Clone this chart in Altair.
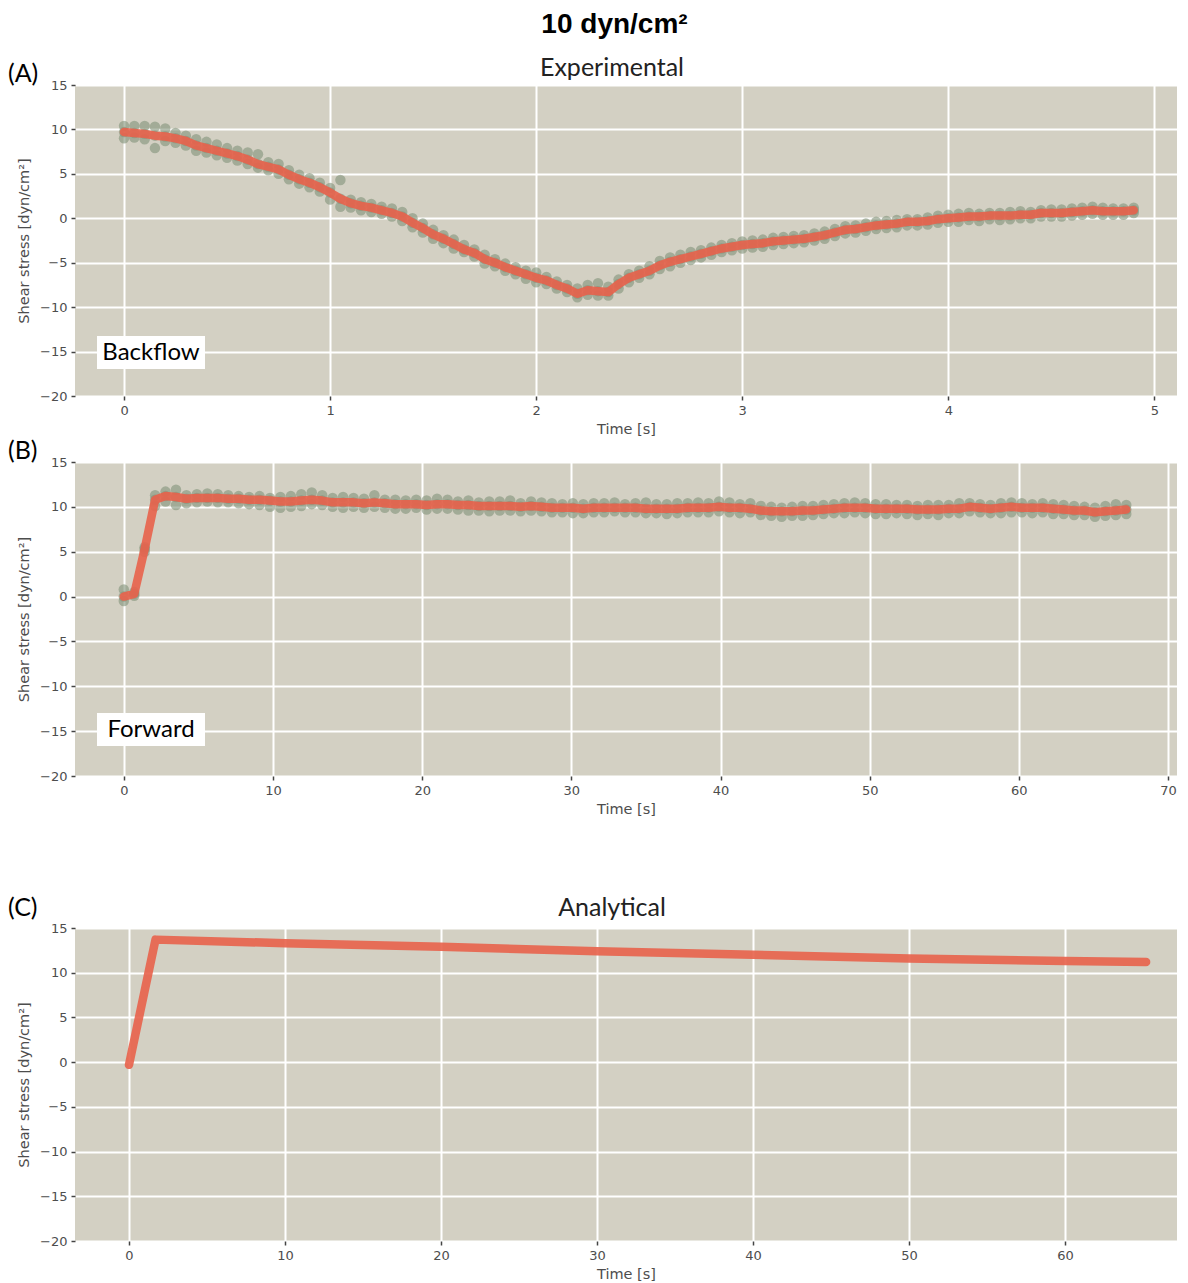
import altair as alt
import pandas as pd

# ---------------- Panel A (Experimental, backflow) ----------------
A_TIME = [0.00, 0.05, 0.10, 0.15, 0.20, 0.25, 0.30, 0.35, 0.40, 0.45,
          0.50, 0.55, 0.60, 0.65, 0.70, 0.75, 0.80, 0.85, 0.90, 0.95,
          1.00, 1.05, 1.10, 1.15, 1.20, 1.25, 1.30, 1.35, 1.40, 1.45,
          1.50, 1.55, 1.60, 1.65, 1.70, 1.75, 1.80, 1.85, 1.90, 1.95,
          2.00, 2.05, 2.10, 2.15, 2.20, 2.25, 2.30, 2.35, 2.40, 2.45,
          2.50, 2.55, 2.60, 2.65, 2.70, 2.75, 2.80, 2.85, 2.90, 2.95,
          3.00, 3.05, 3.10, 3.15, 3.20, 3.25, 3.30, 3.35, 3.40, 3.45,
          3.50, 3.55, 3.60, 3.65, 3.70, 3.75, 3.80, 3.85, 3.90, 3.95,
          4.00, 4.05, 4.10, 4.15, 4.20, 4.25, 4.30, 4.35, 4.40, 4.45,
          4.50, 4.55, 4.60, 4.65, 4.70, 4.75, 4.80, 4.85, 4.90]
A_MEAN = [9.7, 9.6, 9.5, 9.3, 9.2, 9.0, 8.7, 8.2, 7.9, 7.6,
          7.3, 7.0, 6.6, 6.1, 5.8, 5.5, 4.9, 4.4, 4.0, 3.5,
          2.9, 2.2, 1.7, 1.4, 1.2, 0.9, 0.6, 0.2, -0.5, -1.1,
          -1.8, -2.3, -2.9, -3.5, -3.9, -4.6, -5.0, -5.5, -5.9, -6.3,
          -6.7, -7.0, -7.5, -7.9, -8.5, -8.1, -8.2, -8.3, -7.4, -6.7,
          -6.3, -5.9, -5.3, -4.9, -4.6, -4.3, -4.0, -3.7, -3.4, -3.2,
          -3.0, -2.9, -2.8, -2.6, -2.5, -2.4, -2.3, -2.1, -1.9, -1.6,
          -1.3, -1.2, -1.0, -0.8, -0.7, -0.6, -0.4, -0.4, -0.3, -0.1,
          0.0, 0.1, 0.2, 0.2, 0.3, 0.3, 0.3, 0.4, 0.4, 0.6,
          0.6, 0.6, 0.7, 0.8, 0.9, 0.8, 0.8, 0.8, 0.9]
A_HI = [10.4, 10.4, 10.4, 10.3, 10.1, 9.6, 9.3, 8.9, 8.6, 8.3,
        7.9, 7.6, 7.4, 7.2, 6.3, 6.1, 5.4, 4.9, 4.5, 4.0,
        3.4, 4.3, 2.1, 1.8, 1.6, 1.3, 1.1, 0.7, 0.0, -0.6,
        -1.3, -1.9, -2.4, -3.0, -3.5, -4.1, -4.6, -5.1, -5.5, -5.9,
        -6.1, -6.6, -7.1, -7.5, -7.9, -7.5, -7.3, -7.7, -6.9, -6.3,
        -5.9, -5.4, -4.8, -4.4, -4.1, -3.8, -3.6, -3.3, -3.0, -2.8,
        -2.6, -2.5, -2.4, -2.2, -2.1, -2.0, -1.9, -1.7, -1.5, -1.2,
        -0.9, -0.8, -0.6, -0.4, -0.3, -0.2, -0.1, -0.1, 0.1, 0.3,
        0.4, 0.5, 0.6, 0.5, 0.6, 0.6, 0.7, 0.8, 0.7, 0.9,
        1.0, 1.0, 1.1, 1.2, 1.3, 1.2, 1.1, 1.1, 1.2]
A_LO = [9.0, 9.1, 8.9, 7.9, 8.7, 8.5, 8.2, 7.6, 7.4, 7.1,
        6.8, 6.5, 6.1, 5.7, 5.4, 5.0, 4.4, 3.9, 3.5, 3.0,
        2.1, 1.3, 1.2, 0.9, 0.7, 0.5, 0.2, -0.3, -1.0, -1.6,
        -2.3, -2.8, -3.4, -3.8, -4.3, -5.1, -5.4, -5.9, -6.3, -6.8,
        -7.2, -7.4, -7.9, -8.3, -8.9, -8.6, -8.7, -8.7, -7.9, -7.2,
        -6.7, -6.3, -5.7, -5.4, -5.0, -4.7, -4.4, -4.1, -3.8, -3.6,
        -3.4, -3.3, -3.2, -3.0, -2.9, -2.8, -2.7, -2.5, -2.3, -2.0,
        -1.7, -1.6, -1.4, -1.2, -1.1, -1.0, -0.8, -0.8, -0.7, -0.5,
        -0.4, -0.4, -0.2, -0.3, -0.1, -0.2, -0.1, 0.0, 0.0, 0.2,
        0.2, 0.2, 0.3, 0.4, 0.5, 0.4, 0.4, 0.4, 0.6]

# ---------------- Panel B (Experimental, forward) ----------------
B_TIME = [0.0, 0.7, 1.4, 2.1, 2.8, 3.5, 4.2, 4.9, 5.6, 6.3,
          7.0, 7.7, 8.4, 9.1, 9.8, 10.5, 11.2, 11.9, 12.6, 13.3,
          14.0, 14.7, 15.4, 16.1, 16.8, 17.5, 18.2, 18.9, 19.6, 20.3,
          21.0, 21.7, 22.4, 23.1, 23.8, 24.5, 25.2, 25.9, 26.6, 27.3,
          28.0, 28.7, 29.4, 30.1, 30.8, 31.5, 32.2, 32.9, 33.6, 34.3,
          35.0, 35.7, 36.4, 37.1, 37.8, 38.5, 39.2, 39.9, 40.6, 41.3,
          42.0, 42.7, 43.4, 44.1, 44.8, 45.5, 46.2, 46.9, 47.6, 48.3,
          49.0, 49.7, 50.4, 51.1, 51.8, 52.5, 53.2, 53.9, 54.6, 55.3,
          56.0, 56.7, 57.4, 58.1, 58.8, 59.5, 60.2, 60.9, 61.6, 62.3,
          63.0, 63.7, 64.4, 65.1, 65.8, 66.5, 67.2]
B_MEAN = [0.0, 0.3, 5.3, 10.8, 11.2, 11.1, 10.9, 11.0, 11.0, 11.0,
          10.9, 10.9, 10.8, 10.8, 10.7, 10.6, 10.6, 10.7, 10.8, 10.7,
          10.5, 10.5, 10.5, 10.4, 10.5, 10.4, 10.3, 10.3, 10.3, 10.2,
          10.3, 10.3, 10.2, 10.2, 10.1, 10.1, 10.1, 10.1, 10.0, 10.1,
          10.0, 9.9, 9.9, 9.9, 9.8, 9.9, 9.9, 9.9, 9.9, 9.9,
          9.8, 9.8, 9.8, 9.8, 9.9, 9.9, 9.9, 10.0, 9.9, 9.9,
          9.8, 9.6, 9.5, 9.5, 9.5, 9.6, 9.6, 9.7, 9.8, 9.9,
          9.9, 9.9, 9.8, 9.8, 9.8, 9.8, 9.7, 9.7, 9.7, 9.8,
          9.8, 10.0, 9.9, 9.8, 9.9, 10.0, 9.9, 9.9, 9.9, 9.8,
          9.7, 9.6, 9.6, 9.4, 9.5, 9.6, 9.7]
B_HI = [0.8, 0.5, 5.5, 11.3, 11.7, 11.9, 11.3, 11.4, 11.5, 11.4,
        11.3, 11.2, 11.1, 11.2, 11.0, 11.1, 11.2, 11.4, 11.6, 11.3,
        11.0, 11.1, 11.0, 10.9, 11.3, 10.8, 10.8, 10.7, 10.8, 10.7,
        10.9, 10.8, 10.6, 10.7, 10.5, 10.6, 10.6, 10.7, 10.4, 10.6,
        10.5, 10.4, 10.3, 10.4, 10.3, 10.4, 10.4, 10.5, 10.3, 10.4,
        10.5, 10.3, 10.3, 10.4, 10.4, 10.5, 10.4, 10.6, 10.5, 10.3,
        10.4, 10.1, 10.0, 9.9, 10.0, 10.1, 10.1, 10.2, 10.3, 10.4,
        10.5, 10.4, 10.3, 10.3, 10.2, 10.2, 10.1, 10.2, 10.2, 10.2,
        10.4, 10.4, 10.3, 10.2, 10.4, 10.5, 10.4, 10.3, 10.4, 10.3,
        10.2, 10.1, 10.0, 9.9, 10.1, 10.3, 10.2]
B_LO = [-0.5, 0.1, 5.0, 10.1, 10.6, 10.2, 10.4, 10.5, 10.6, 10.5,
        10.5, 10.4, 10.3, 10.2, 10.0, 9.9, 10.0, 10.1, 10.3, 10.2,
        10.0, 9.9, 10.0, 9.9, 10.0, 9.9, 9.8, 9.8, 9.9, 9.7,
        9.8, 9.8, 9.7, 9.6, 9.6, 9.5, 9.6, 9.6, 9.5, 9.6,
        9.5, 9.4, 9.4, 9.3, 9.3, 9.4, 9.4, 9.5, 9.4, 9.4,
        9.3, 9.3, 9.2, 9.3, 9.4, 9.4, 9.4, 9.5, 9.4, 9.3,
        9.4, 9.1, 9.0, 8.9, 9.0, 9.0, 9.1, 9.2, 9.3, 9.3,
        9.4, 9.3, 9.2, 9.2, 9.3, 9.2, 9.1, 9.2, 9.1, 9.3,
        9.3, 9.5, 9.4, 9.3, 9.3, 9.4, 9.4, 9.3, 9.4, 9.2,
        9.2, 9.1, 9.1, 8.9, 9.0, 9.1, 9.2]

# ---------------- Panel C (Analytical) ----------------
C_TIME = [0.0, 1.7, 10.0, 20.0, 30.0, 40.0, 50.0, 60.0, 65.2]
C_VALUE = [-0.3, 13.7, 13.3, 12.9, 12.4, 12.0, 11.6, 11.3, 11.2]

Y_TICKS = [-20, -15, -10, -5, 0, 5, 10, 15]
A_XTICKS = [0, 1, 2, 3, 4, 5]
B_XTICKS = [0, 10, 20, 30, 40, 50, 60, 70]
C_XTICKS = [0, 10, 20, 30, 40, 50, 60]

BG = "#D3D0C3"
DOT = "#82927A"
RED = "#E8624B"
LABEL_FONT = "Lato"
ONE = pd.DataFrame({"k": [0]})


def panel(t, mean, extra, xdom, xticks, width, height, label, label_dx, label_dy,
          title=None, title_x=0, title_dy=0, note=None):
    x = alt.X("t:Q", scale=alt.Scale(domain=xdom, nice=False, zero=False),
              axis=alt.Axis(values=xticks, format="d", title="Time [s]"))
    y = alt.Y("v:Q", scale=alt.Scale(domain=[-20, 15], nice=False, zero=False),
              axis=alt.Axis(values=Y_TICKS, format="d",
                            title="Shear stress [dyn/cm²]"))
    layers = []
    if extra is not None:
        tt = []
        vv = []
        for series in extra:
            tt += t
            vv += series
        pts = pd.DataFrame({"t": tt, "v": vv})
        layers.append(alt.Chart(pts).mark_circle(size=110, color=DOT, opacity=0.6)
                      .encode(x=x, y=y))
    line_df = pd.DataFrame({"t": t, "v": mean})
    layers.append(alt.Chart(line_df).mark_line(color=RED, strokeWidth=8.5, opacity=0.9,
                                               strokeCap="round", strokeJoin="round")
                  .encode(x=x, y=y))
    layers.append(alt.Chart(ONE).mark_text(font=LABEL_FONT, fontSize=25, align="left",
                                           baseline="middle", color="black")
                  .encode(x=alt.value(label_dx), y=alt.value(label_dy), text=alt.value(label)))
    if title is not None:
        layers.append(alt.Chart(ONE).mark_text(font=LABEL_FONT, fontSize=25, align="center",
                                               baseline="middle", color="#222")
                      .encode(x=alt.value(title_x), y=alt.value(title_dy),
                              text=alt.value(title)))
    if note is not None:
        layers.append(alt.Chart(ONE).mark_rect(color="white")
                      .encode(x=alt.value(22), x2=alt.value(130),
                              y=alt.value(251), y2=alt.value(284)))
        layers.append(alt.Chart(ONE).mark_text(font=LABEL_FONT, fontSize=24, align="center",
                                               baseline="middle", color="black")
                      .encode(x=alt.value(76), y=alt.value(268), text=alt.value(note)))
    return alt.layer(*layers).properties(width=width, height=height)


chart_a = panel(A_TIME, A_MEAN, [A_HI, A_MEAN, A_LO], [-0.238, 5.11], A_XTICKS,
                1102, 311, "(A)", -67, -11, title="Experimental", title_x=537,
                title_dy=-17, note="Backflow")
chart_b = panel(B_TIME, B_MEAN, [B_HI, B_MEAN, B_LO], [-3.27, 70.6], B_XTICKS,
                1102, 314, "(B)", -67, -11, note="Forward")
chart_c = panel(C_TIME, C_VALUE, None, [-3.46, 67.18], C_XTICKS,
                1102, 313, "(C)", -67, -20, title="Analytical", title_x=537,
                title_dy=-20)

top = alt.vconcat(chart_a, chart_b, spacing=3)
chart = alt.vconcat(top, chart_c, spacing=80).properties(
    title=alt.TitleParams("10 dyn/cm²", font="Liberation Sans", fontSize=28,
                          fontWeight="bold", color="black", anchor="middle",
                          offset=17, dx=22),
    padding={"left": 0, "top": 3, "right": 0, "bottom": 0},
    background="white",
).configure_view(
    fill=BG, strokeWidth=0
).configure_axis(
    grid=True, gridColor="white", gridWidth=2, gridOpacity=1,
    domain=False, tickColor="#444", tickSize=4, tickWidth=1.5,
    labelColor="#4d4d4d", labelFont="DejaVu Sans", labelFontSize=13, labelPadding=4,
    titleColor="#4d4d4d", titleFont="DejaVu Sans", titleFontSize=14.5,
    titleFontWeight="normal"
).configure_axisY(
    titlePadding=8
).configure_axisX(
    titlePadding=5
)

chart.save("out.html", embed_options={"renderer": "svg", "actions": False})
